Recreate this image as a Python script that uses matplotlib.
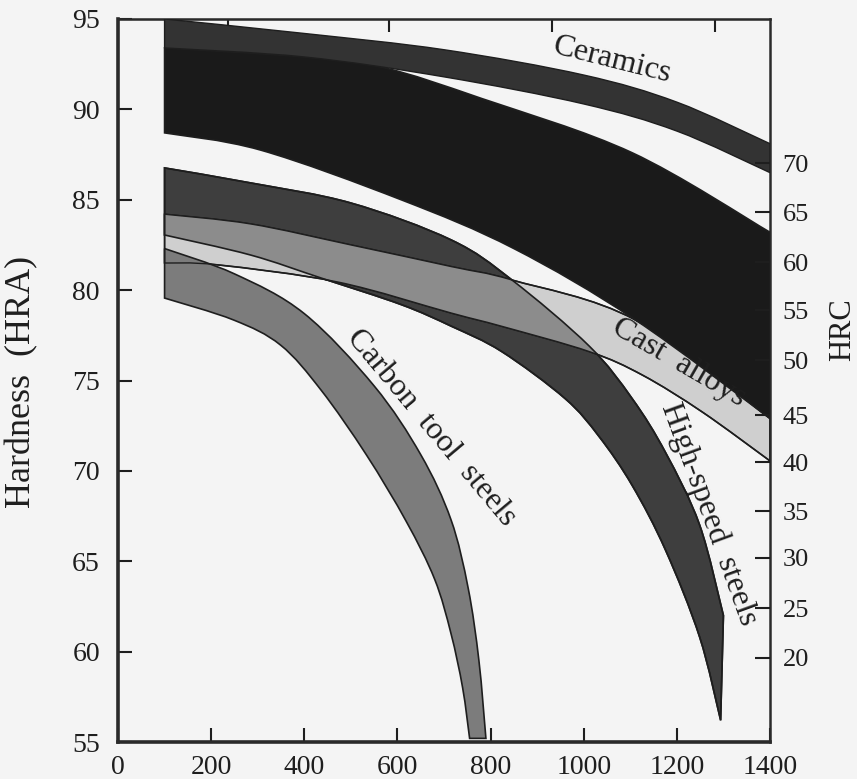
import numpy as np
import matplotlib
matplotlib.use("Agg")
import matplotlib.pyplot as plt
from matplotlib.path import Path
from matplotlib.patches import PathPatch

plt.rcParams['font.family'] = ['Liberation Serif', 'DejaVu Serif']

# temperature (deg C) / hardness (HRA)
ceramics_t_up = [100, 400, 700, 1000, 1200, 1400]
ceramics_h_up = [95.0, 94.2, 93.3, 91.9, 90.4, 88.1]
ceramics_t_lo = [100, 400, 700, 1000, 1200, 1400]
ceramics_h_lo = [93.4, 92.9, 91.8, 90.3, 88.8, 86.5]

carbides_t_up = [100, 400, 572, 781, 1104, 1400]
carbides_h_up = [93.4, 92.9, 92.3, 90.6, 87.6, 83.2]
carbides_t_lo = [100, 306, 608, 850, 1111, 1400]
carbides_h_lo = [88.7, 87.75, 85.0, 82.3, 78.35, 72.9]

hss_t_up = [100, 285, 500, 716, 846, 1012, 1104, 1176, 1249, 1300]
hss_h_up = [86.76, 85.93, 84.82, 82.77, 80.56, 76.9, 74.0, 71.0, 67.0, 62.0]
hss_t_lo = [100, 285, 436, 608, 716, 824, 960, 1033, 1104, 1176, 1249, 1294]
hss_h_lo = [83.05, 81.94, 80.67, 79.2, 78.0, 76.6, 74.0, 71.9, 69.2, 65.6, 60.8, 56.2]

cast_t_up = [100, 285, 500, 716, 846, 1111, 1400]
cast_h_up = [84.2, 83.66, 82.5, 81.3, 80.56, 78.35, 72.9]
cast_t_lo = [100, 213, 472, 716, 824, 1012, 1126, 1255, 1400]
cast_h_lo = [81.5, 81.4, 80.45, 78.73, 78.0, 76.6, 75.3, 73.25, 70.55]

carbon_t_up = [100, 250, 400, 550, 650, 715, 752, 775, 790]
carbon_h_up = [82.3, 80.9, 78.7, 74.7, 70.9, 67.3, 63.5, 59.5, 55.2]
carbon_t_lo = [100, 248, 349, 436, 533, 619, 680, 715, 740, 755]
carbon_h_lo = [79.56, 78.35, 76.96, 74.47, 70.9, 67.2, 64.0, 61.0, 58.0, 55.2]

x_ticks = [0, 200, 400, 600, 800, 1000, 1200, 1400]
y_ticks = [55, 60, 65, 70, 75, 80, 85, 90, 95]
top_ticks = [237, 582, 932, 1281]
hrc_labels = [70, 65, 60, 55, 50, 45, 40, 35, 30, 25, 20]
hrc_at_hra = [87.03, 84.32, 81.55, 78.9, 76.13, 73.09, 70.49, 67.78, 65.18, 62.41, 59.65]


def edge(ts, hs):
    p = np.column_stack([ts, hs]).astype(float)
    q = np.vstack([p[0], p, p[-1]])
    verts = [p[0]]
    for i in range(len(p) - 1):
        a, b, c, d = q[i], q[i + 1], q[i + 2], q[i + 3]
        verts += [b + (c - a) / 6, c - (d - b) / 6, c]
    return verts


def band_path(tu, hu, tl, hl):
    up = edge(tu, hu)
    lo = edge(tl[::-1], hl[::-1])
    verts = up + lo + [up[0]]
    codes = ([Path.MOVETO] + [Path.CURVE4] * (len(up) - 1) + [Path.LINETO]
             + [Path.CURVE4] * (len(lo) - 1) + [Path.CLOSEPOLY])
    return Path(verts, codes)


bg = '#f4f4f4'
ink = '#1e1e1e'
fig = plt.figure(figsize=(8.57, 7.79), dpi=100, facecolor=bg)
ax = fig.add_axes([118 / 857, 37 / 779, 652 / 857, 723 / 779])
ax.set_facecolor(bg)

hss_path = band_path(hss_t_up, hss_h_up, hss_t_lo, hss_h_lo)
cast_path = band_path(cast_t_up, cast_h_up, cast_t_lo, cast_h_lo)

hss = PathPatch(hss_path, fc='#3e3e3e', ec=ink, lw=1.2, zorder=2)
ax.add_patch(hss)
ax.add_patch(PathPatch(cast_path, fc='#cfcfcf', ec=ink, lw=1.2, zorder=3))
both = PathPatch(cast_path, fc='#8c8c8c', ec='none', zorder=4)
ax.add_patch(both)
both.set_clip_path(hss)
ax.add_patch(PathPatch(hss_path, fc='none', ec=ink, lw=1.2, zorder=5))

ax.add_patch(PathPatch(band_path(carbon_t_up, carbon_h_up, carbon_t_lo, carbon_h_lo),
                       fc='#7c7c7c', ec=ink, lw=1.2, zorder=6))
ax.add_patch(PathPatch(cast_path, fc='none', ec=ink, lw=1.0, zorder=7))
ax.add_patch(PathPatch(band_path(carbides_t_up, carbides_h_up, carbides_t_lo, carbides_h_lo),
                       fc='#1a1a1a', ec=ink, lw=1.2, zorder=8))
ax.add_patch(PathPatch(band_path(ceramics_t_up, ceramics_h_up, ceramics_t_lo, ceramics_h_lo),
                       fc='#333333', ec=ink, lw=1.0, zorder=9))

lab = dict(color=ink, fontsize=23, ha='center', va='center', zorder=10)
ax.text(1061, 92.7, 'Ceramics', rotation=-14, **lab)
ax.text(1204, 76.0, 'Cast  alloys', rotation=-30, **lab)
ax.text(1268, 67.6, 'High-speed  steels', rotation=-70, **lab)
ax.text(673, 72.4, 'Carbon  tool  steels', rotation=-50, **lab)

ax.set_xlim(0, 1400)
ax.set_ylim(55, 95)
ax.set_xticks(x_ticks)
ax.set_yticks(y_ticks)
ax.tick_params(direction='in', length=10, width=1.5, labelsize=20, pad=13,
               colors=ink, top=False, right=False)
ax.tick_params(axis='x', pad=9)
for s in ax.spines.values():
    s.set_linewidth(1.8)
    s.set_color('#2a2a2a')
ax.spines['left'].set_linewidth(2.6)
ax.spines['bottom'].set_linewidth(2.6)

top = ax.secondary_xaxis('top')
top.set_xticks(top_ticks)
top.set_xticklabels([])
top.tick_params(direction='in', length=9, width=1.5, colors=ink)

ax2 = ax.twinx()
ax2.set_ylim(55, 95)
ax2.set_yticks(hrc_at_hra)
ax2.set_yticklabels([str(v) for v in hrc_labels])
ax2.tick_params(direction='in', length=11, width=1.5, labelsize=19, pad=9, colors=ink)
for s in ax2.spines.values():
    s.set_visible(False)

fig.text(22 / 857, 1 - 382 / 779, 'Hardness  (HRA)', rotation=90, fontsize=26,
         color=ink, ha='center', va='center')
fig.text(843 / 857, 1 - 330 / 779, 'HRC', rotation=90, fontsize=22,
         color=ink, ha='center', va='center')

fig.savefig('out.png', dpi=100, facecolor=bg)
